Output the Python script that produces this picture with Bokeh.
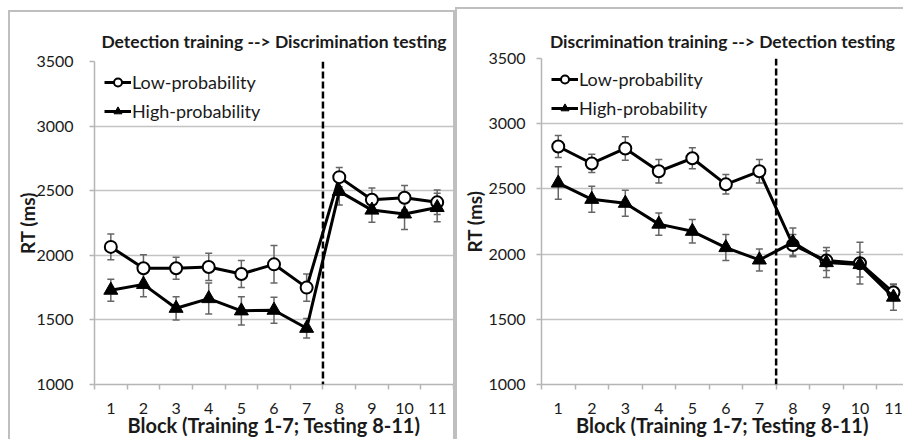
from bokeh.plotting import figure
from bokeh.models import (ColumnDataSource, FixedTicker, Whisker, TeeHead, Span,
                          Legend, LegendItem, Range1d, Spacer)
from bokeh.layouts import row, column
from bokeh.embed import file_html
from bokeh.resources import INLINE

# ---------------- data ----------------
blocks = [1, 2, 3, 4, 5, 6, 7, 8, 9, 10, 11]
y_ticks = [1000, 1500, 2000, 2500, 3000, 3500]
last_training_block = 7
series_names = ["Low-probability", "High-probability"]
x_axis_label = "Block (Training 1-7; Testing 8-11)"
y_axis_label = "RT (ms)"

left_title = "Detection training --> Discrimination testing"
left_low = [2065, 1900, 1900, 1910, 1855, 1930, 1750, 2605, 2430, 2445, 2410]
left_low_err = [100, 105, 85, 105, 105, 145, 105, 75, 90, 95, 95]
left_high = [1730, 1775, 1590, 1665, 1570, 1575, 1435, 2495, 2350, 2320, 2370]
left_high_err = [85, 95, 90, 120, 110, 100, 75, 105, 95, 120, 110]

right_title = "Discrimination training --> Detection testing"
right_low = [2825, 2695, 2810, 2635, 2735, 2535, 2635, 2070, 1950, 1930, 1705]
right_low_err = [85, 70, 90, 90, 80, 75, 90, 80, 75, 160, 60]
right_high = [2545, 2420, 2390, 2230, 2175, 2050, 1955, 2090, 1935, 1920, 1670]
right_high_err = [125, 100, 100, 85, 90, 100, 85, 110, 115, 95, 100]

FONT = "Lato"
GRID = "#c3c3c3"
AXIS = "#b5b5b5"
ERR = "#666666"
TXT = "#1a1a1a"
PANEL = "#bfbfbf"

# shared borders (Bokeh aligns the borders of plots placed in a row)
B_LEFT, B_TOP, B_RIGHT, B_BOTTOM = 84, 49, 0, 55


def add_errors(p, means, errs):
    src = ColumnDataSource(dict(x=blocks,
                                upper=[m + e for m, e in zip(means, errs)],
                                lower=[m - e for m, e in zip(means, errs)]))
    w = Whisker(base="x", upper="upper", lower="lower", source=src,
                line_color=ERR, line_width=1.5, level="underlay",
                upper_head=TeeHead(size=7, line_color=ERR, line_width=1.5),
                lower_head=TeeHead(size=7, line_color=ERR, line_width=1.5))
    p.add_layout(w)


def make_panel(title, low, low_err, high, high_err, width, height, x_end,
               title_standoff, ytick_standoff, ylabel_standoff):
    p = figure(width=width, height=height, output_backend="svg",
               toolbar_location=None, x_range=Range1d(0.5, x_end),
               y_range=Range1d(y_ticks[0], y_ticks[-1]),
               min_border_left=B_LEFT, min_border_top=B_TOP,
               min_border_right=B_RIGHT, min_border_bottom=B_BOTTOM,
               background_fill_color="white", border_fill_color="white")
    p.outline_line_color = None

    p.title.text = title
    p.title.align = "center"
    p.title.text_font = FONT
    p.title.text_font_style = "bold"
    p.title.text_font_size = "17.5px"
    p.title.text_color = TXT
    p.title.standoff = title_standoff

    # grid
    p.xgrid.visible = False
    p.ygrid.grid_line_color = GRID
    p.ygrid.grid_line_width = 1.5

    # x axis
    xa = p.xaxis[0]
    xa.ticker = FixedTicker(ticks=blocks,
                            minor_ticks=[b - 0.5 for b in blocks] + [blocks[-1] + 0.5])
    xa.major_tick_line_color = None
    xa.major_tick_out = 0
    xa.major_tick_in = 0
    xa.minor_tick_line_color = AXIS
    xa.minor_tick_line_width = 1.5
    xa.minor_tick_out = 5
    xa.minor_tick_in = 0
    xa.axis_line_color = AXIS
    xa.axis_line_width = 1.5
    xa.major_label_text_font = FONT
    xa.major_label_text_font_size = "16px"
    xa.major_label_text_color = TXT
    xa.major_label_standoff = 13
    xa.axis_label = x_axis_label
    xa.axis_label_text_font = FONT
    xa.axis_label_text_font_style = "bold"
    xa.axis_label_text_font_size = "20px"
    xa.axis_label_text_color = TXT
    xa.axis_label_standoff = -4

    # y axis
    ya = p.yaxis[0]
    ya.ticker = FixedTicker(ticks=y_ticks)
    ya.minor_tick_line_color = None
    ya.major_tick_line_color = AXIS
    ya.major_tick_line_width = 1.5
    ya.major_tick_out = 5
    ya.major_tick_in = 0
    ya.axis_line_color = AXIS
    ya.axis_line_width = 1.5
    ya.major_label_text_font = FONT
    ya.major_label_text_font_size = "16px"
    ya.major_label_text_color = TXT
    ya.major_label_standoff = ytick_standoff
    ya.axis_label = y_axis_label
    ya.axis_label_text_font = FONT
    ya.axis_label_text_font_style = "bold"
    ya.axis_label_text_font_size = "19px"
    ya.axis_label_text_color = TXT
    ya.axis_label_standoff = ylabel_standoff

    # training / testing divider
    p.add_layout(Span(location=last_training_block + 0.5, dimension="height",
                      line_color="black", line_width=2.5, line_dash="7 3"))

    add_errors(p, low, low_err)
    add_errors(p, high, high_err)

    lr = p.line(blocks, low, line_color="black", line_width=3)
    ls = p.scatter(blocks, low, marker="circle", size=12, fill_color="white",
                   line_color="black", line_width=2)
    hr = p.line(blocks, high, line_color="black", line_width=3)
    hs = p.scatter(blocks, high, marker="triangle", size=14, fill_color="black",
                   line_color="black", line_width=1)

    legend = Legend(items=[LegendItem(label=series_names[0], renderers=[lr, ls]),
                           LegendItem(label=series_names[1], renderers=[hr, hs])],
                    location="top_left", border_line_color=None,
                    background_fill_alpha=0, label_text_font=FONT,
                    label_text_font_size="18px", label_text_color=TXT,
                    glyph_width=27, glyph_height=20, label_height=20,
                    label_standoff=1, spacing=7, padding=4, margin=10)
    p.add_layout(legend)
    return p


p1 = make_panel(left_title, left_low, left_low_err, left_high, left_high_err,
                width=443, height=427, x_end=11.5, title_standoff=20,
                ytick_standoff=16, ylabel_standoff=-6)
p2 = make_panel(right_title, right_low, right_low_err, right_high, right_high_err,
                width=446, height=430, x_end=11.3, title_standoff=14,
                ytick_standoff=11, ylabel_standoff=-1)

panel_style = {"outline": "2px solid " + PANEL}
lead = Spacer(width=8, height=439)
c1 = column(p1, margin=(12, 0, 0, 2), styles=panel_style)
c2 = column(p2, margin=(9, 0, 0, 4), styles=panel_style)

layout = row(lead, c1, c2)
open("out.html", "w").write(file_html(layout, INLINE))
